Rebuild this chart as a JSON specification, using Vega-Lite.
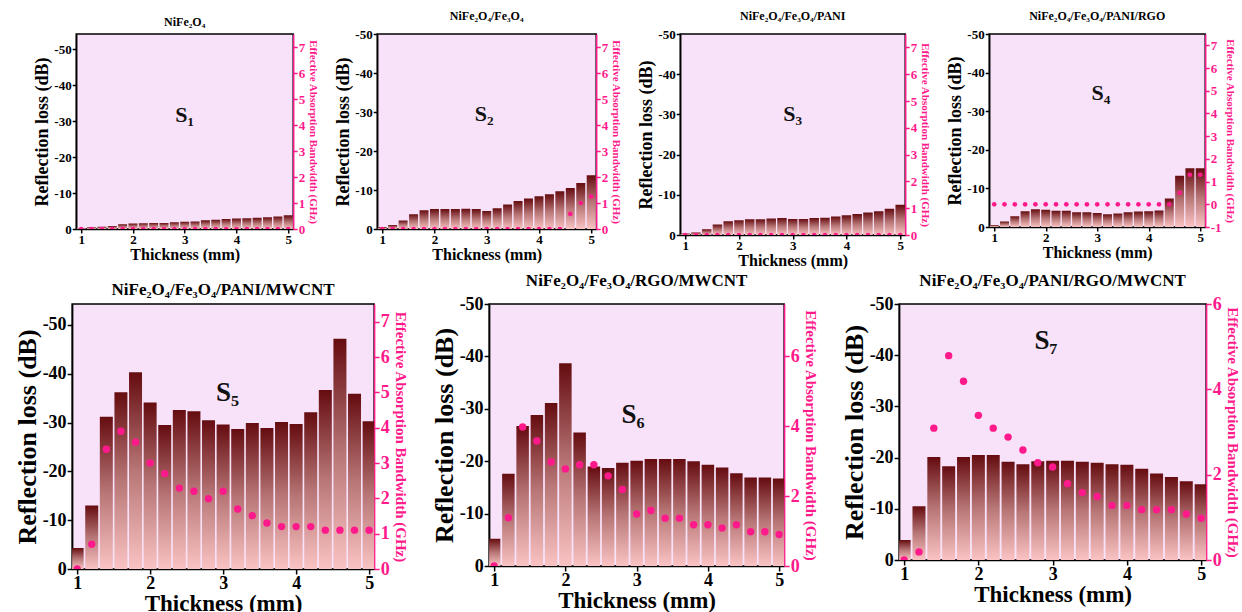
{
  "$schema": "https://vega.github.io/schema/vega-lite/v6.json",
  "padding": {"left": 13, "top": 9, "right": 0, "bottom": 0},
  "background": "white",
  "center": true,
  "spacing": 2,
  "config": {
    "font": "Liberation Serif",
    "view": {"fill": "#f8e2f9", "stroke": "#000000", "strokeWidth": 1.5},
    "axis": {"labelFont": "Liberation Serif", "titleFont": "Liberation Serif", "labelFontWeight": "bold", "titleFontWeight": "bold", "grid": false, "domainColor": "#000", "tickColor": "#000", "labelColor": "#000", "titleColor": "#000", "domainWidth": 1.5, "tickWidth": 1.5, "labelOverlap": false, "labelFlush": false, "tickCount": 20, "format": "d"},
    "title": {"font": "Liberation Serif", "fontWeight": "bold", "color": "#000"}
  },
  "datasets": {
    "d": [
      {"s":"S1","t":1.0,"rl":-0.3,"eab":0},{"s":"S1","t":1.2,"rl":-0.5,"eab":0},{"s":"S1","t":1.4,"rl":-0.6,"eab":0},{"s":"S1","t":1.6,"rl":-0.8,"eab":0},{"s":"S1","t":1.8,"rl":-1.3,"eab":0},{"s":"S1","t":2.0,"rl":-1.5,"eab":0},{"s":"S1","t":2.2,"rl":-1.6,"eab":0},{"s":"S1","t":2.4,"rl":-1.7,"eab":0},{"s":"S1","t":2.6,"rl":-1.7,"eab":0},{"s":"S1","t":2.8,"rl":-1.9,"eab":0},{"s":"S1","t":3.0,"rl":-2.0,"eab":0},{"s":"S1","t":3.2,"rl":-2.1,"eab":0},{"s":"S1","t":3.4,"rl":-2.4,"eab":0},{"s":"S1","t":3.6,"rl":-2.6,"eab":0},{"s":"S1","t":3.8,"rl":-2.8,"eab":0},{"s":"S1","t":4.0,"rl":-2.9,"eab":0},{"s":"S1","t":4.2,"rl":-3.0,"eab":0},{"s":"S1","t":4.4,"rl":-3.1,"eab":0},{"s":"S1","t":4.6,"rl":-3.3,"eab":0},{"s":"S1","t":4.8,"rl":-3.5,"eab":0},{"s":"S1","t":5.0,"rl":-3.8,"eab":0},
      {"s":"S2","t":1.0,"rl":-0.5,"eab":0},{"s":"S2","t":1.2,"rl":-1.0,"eab":0},{"s":"S2","t":1.4,"rl":-2.2,"eab":0},{"s":"S2","t":1.6,"rl":-3.8,"eab":0},{"s":"S2","t":1.8,"rl":-4.8,"eab":0},{"s":"S2","t":2.0,"rl":-5.1,"eab":0},{"s":"S2","t":2.2,"rl":-5.1,"eab":0},{"s":"S2","t":2.4,"rl":-5.1,"eab":0},{"s":"S2","t":2.6,"rl":-5.2,"eab":0},{"s":"S2","t":2.8,"rl":-5.1,"eab":0},{"s":"S2","t":3.0,"rl":-4.6,"eab":0},{"s":"S2","t":3.2,"rl":-5.3,"eab":0},{"s":"S2","t":3.4,"rl":-6.3,"eab":0},{"s":"S2","t":3.6,"rl":-7.2,"eab":0},{"s":"S2","t":3.8,"rl":-7.8,"eab":0},{"s":"S2","t":4.0,"rl":-8.4,"eab":0},{"s":"S2","t":4.2,"rl":-8.9,"eab":0},{"s":"S2","t":4.4,"rl":-9.7,"eab":0},{"s":"S2","t":4.6,"rl":-10.5,"eab":0.58},{"s":"S2","t":4.8,"rl":-11.8,"eab":1.0},{"s":"S2","t":5.0,"rl":-13.8,"eab":1.25},
      {"s":"S3","t":1.0,"rl":-0.4,"eab":0},{"s":"S3","t":1.2,"rl":-0.6,"eab":0},{"s":"S3","t":1.4,"rl":-1.4,"eab":0},{"s":"S3","t":1.6,"rl":-2.6,"eab":0},{"s":"S3","t":1.8,"rl":-3.4,"eab":0},{"s":"S3","t":2.0,"rl":-3.7,"eab":0},{"s":"S3","t":2.2,"rl":-3.9,"eab":0},{"s":"S3","t":2.4,"rl":-3.9,"eab":0},{"s":"S3","t":2.6,"rl":-4.1,"eab":0},{"s":"S3","t":2.8,"rl":-4.2,"eab":0},{"s":"S3","t":3.0,"rl":-4.0,"eab":0},{"s":"S3","t":3.2,"rl":-4.0,"eab":0},{"s":"S3","t":3.4,"rl":-4.2,"eab":0},{"s":"S3","t":3.6,"rl":-4.3,"eab":0},{"s":"S3","t":3.8,"rl":-4.6,"eab":0},{"s":"S3","t":4.0,"rl":-4.9,"eab":0},{"s":"S3","t":4.2,"rl":-5.2,"eab":0},{"s":"S3","t":4.4,"rl":-5.6,"eab":0},{"s":"S3","t":4.6,"rl":-5.9,"eab":0},{"s":"S3","t":4.8,"rl":-6.5,"eab":0},{"s":"S3","t":5.0,"rl":-7.5,"eab":0},
      {"s":"S4","t":1.0,"rl":-0.5,"eab":0},{"s":"S4","t":1.2,"rl":-1.4,"eab":0},{"s":"S4","t":1.4,"rl":-2.8,"eab":0},{"s":"S4","t":1.6,"rl":-4.1,"eab":0},{"s":"S4","t":1.8,"rl":-4.6,"eab":0},{"s":"S4","t":2.0,"rl":-4.5,"eab":0},{"s":"S4","t":2.2,"rl":-4.2,"eab":0},{"s":"S4","t":2.4,"rl":-4.2,"eab":0},{"s":"S4","t":2.6,"rl":-3.8,"eab":0},{"s":"S4","t":2.8,"rl":-3.8,"eab":0},{"s":"S4","t":3.0,"rl":-3.6,"eab":0},{"s":"S4","t":3.2,"rl":-3.3,"eab":0},{"s":"S4","t":3.4,"rl":-3.5,"eab":0},{"s":"S4","t":3.6,"rl":-3.8,"eab":0},{"s":"S4","t":3.8,"rl":-4.0,"eab":0},{"s":"S4","t":4.0,"rl":-4.1,"eab":0},{"s":"S4","t":4.2,"rl":-4.3,"eab":0},{"s":"S4","t":4.4,"rl":-7.4,"eab":0},{"s":"S4","t":4.6,"rl":-13.3,"eab":0.5},{"s":"S4","t":4.8,"rl":-15.2,"eab":1.3},{"s":"S4","t":5.0,"rl":-15.2,"eab":1.3},
      {"s":"S5","t":1.0,"rl":-4.3,"eab":0},{"s":"S5","t":1.2,"rl":-13.0,"eab":0.7},{"s":"S5","t":1.4,"rl":-31.2,"eab":3.39},{"s":"S5","t":1.6,"rl":-36.2,"eab":3.9},{"s":"S5","t":1.8,"rl":-40.3,"eab":3.59},{"s":"S5","t":2.0,"rl":-34.1,"eab":3.0},{"s":"S5","t":2.2,"rl":-29.5,"eab":2.7},{"s":"S5","t":2.4,"rl":-32.6,"eab":2.29},{"s":"S5","t":2.6,"rl":-32.3,"eab":2.2},{"s":"S5","t":2.8,"rl":-30.5,"eab":1.99},{"s":"S5","t":3.0,"rl":-29.6,"eab":2.2},{"s":"S5","t":3.2,"rl":-28.7,"eab":1.7},{"s":"S5","t":3.4,"rl":-29.9,"eab":1.51},{"s":"S5","t":3.6,"rl":-28.9,"eab":1.3},{"s":"S5","t":3.8,"rl":-30.1,"eab":1.2},{"s":"S5","t":4.0,"rl":-29.7,"eab":1.2},{"s":"S5","t":4.2,"rl":-32.1,"eab":1.2},{"s":"S5","t":4.4,"rl":-36.7,"eab":1.1},{"s":"S5","t":4.6,"rl":-47.2,"eab":1.1},{"s":"S5","t":4.8,"rl":-35.9,"eab":1.1},{"s":"S5","t":5.0,"rl":-30.3,"eab":1.1},
      {"s":"S6","t":1.0,"rl":-5.2,"eab":0},{"s":"S6","t":1.2,"rl":-17.6,"eab":1.38},{"s":"S6","t":1.4,"rl":-26.7,"eab":3.98},{"s":"S6","t":1.6,"rl":-28.8,"eab":3.58},{"s":"S6","t":1.8,"rl":-31.1,"eab":2.98},{"s":"S6","t":2.0,"rl":-38.7,"eab":2.78},{"s":"S6","t":2.2,"rl":-25.5,"eab":2.9},{"s":"S6","t":2.4,"rl":-19.0,"eab":2.9},{"s":"S6","t":2.6,"rl":-18.7,"eab":2.58},{"s":"S6","t":2.8,"rl":-19.7,"eab":2.19},{"s":"S6","t":3.0,"rl":-20.1,"eab":1.49},{"s":"S6","t":3.2,"rl":-20.4,"eab":1.59},{"s":"S6","t":3.4,"rl":-20.4,"eab":1.37},{"s":"S6","t":3.6,"rl":-20.4,"eab":1.37},{"s":"S6","t":3.8,"rl":-20.0,"eab":1.18},{"s":"S6","t":4.0,"rl":-19.3,"eab":1.18},{"s":"S6","t":4.2,"rl":-18.8,"eab":1.09},{"s":"S6","t":4.4,"rl":-17.7,"eab":1.18},{"s":"S6","t":4.6,"rl":-16.9,"eab":0.98},{"s":"S6","t":4.8,"rl":-16.9,"eab":0.98},{"s":"S6","t":5.0,"rl":-16.7,"eab":0.9},
      {"s":"S7","t":1.0,"rl":-3.9,"eab":0},{"s":"S7","t":1.2,"rl":-10.5,"eab":0.19},{"s":"S7","t":1.4,"rl":-20.1,"eab":3.09},{"s":"S7","t":1.6,"rl":-18.3,"eab":4.79},{"s":"S7","t":1.8,"rl":-20.1,"eab":4.19},{"s":"S7","t":2.0,"rl":-20.5,"eab":3.39},{"s":"S7","t":2.2,"rl":-20.5,"eab":3.09},{"s":"S7","t":2.4,"rl":-19.2,"eab":2.88},{"s":"S7","t":2.6,"rl":-18.7,"eab":2.58},{"s":"S7","t":2.8,"rl":-19.3,"eab":2.28},{"s":"S7","t":3.0,"rl":-19.4,"eab":2.18},{"s":"S7","t":3.2,"rl":-19.4,"eab":1.79},{"s":"S7","t":3.4,"rl":-19.2,"eab":1.58},{"s":"S7","t":3.6,"rl":-19.0,"eab":1.49},{"s":"S7","t":3.8,"rl":-18.7,"eab":1.28},{"s":"S7","t":4.0,"rl":-18.6,"eab":1.28},{"s":"S7","t":4.2,"rl":-17.8,"eab":1.18},{"s":"S7","t":4.4,"rl":-16.9,"eab":1.18},{"s":"S7","t":4.6,"rl":-16.2,"eab":1.18},{"s":"S7","t":4.8,"rl":-15.4,"eab":1.08},{"s":"S7","t":5.0,"rl":-14.8,"eab":0.98}
    ],
    "lab": [
      {"s":"S1","label":"S₁","x":3.0,"y":-31.6},
      {"s":"S2","label":"S₂","x":2.95,"y":-29.6},
      {"s":"S3","label":"S₃","x":3.0,"y":-30},
      {"s":"S4","label":"S₄","x":3.07,"y":-34.6},
      {"s":"S5","label":"S₅","x":3.06,"y":-36},
      {"s":"S6","label":"S₆","x":2.95,"y":-28.9},
      {"s":"S7","label":"S₇","x":2.91,"y":-42.8}
    ]
  },
  "resolve": {"scale": {"x": "independent", "y": "independent"}},
  "vconcat": [
    {
      "bounds": "flush",
      "spacing": 84,
      "resolve": {"scale": {"x": "independent", "y": "independent"}},
      "hconcat": [
        {
          "width": 217, "height": 195,
          "title": {"text": "NiFe₂O₄", "fontSize": 12, "offset": 5},
          "resolve": {"scale": {"y": "independent"}},
          "layer": [
            {
              "layer": [
                {"data": {"name": "d"}, "transform": [{"filter": "datum.s == 'S1'"}],
                 "mark": {"type": "bar", "width": 9, "clip": true, "color": {"gradient": "linear", "x1": 0, "y1": 0, "x2": 0, "y2": 1, "stops": [{"offset": 0, "color": "#650c10"}, {"offset": 0.5, "color": "#b87676"}, {"offset": 1, "color": "#fac3c3"}]}},
                 "encoding": {
                   "x": {"field": "t", "type": "quantitative", "scale": {"domain": [1, 5], "nice": false, "zero": false}, "axis": {"values": [1, 2, 3, 4, 5], "format": "d", "title": "Thickness (mm)", "labelFontSize": 13, "titleFontSize": 16, "titlePadding": 0, "labelPadding": 0, "tickSize": 4}},
                   "y": {"field": "rl", "type": "quantitative", "scale": {"domain": [0, -54.2], "nice": false}, "axis": {"values": [0, -10, -20, -30, -40, -50], "labelExpr": "datum.value == 0 ? '0' : '-' + abs(datum.value)", "title": "Reflection loss (dB)", "labelFontSize": 13, "titleFontSize": 18, "titlePadding": 2, "labelPadding": 1, "tickSize": 4}}
                 }},
                {"mark": {"type": "rule", "strokeDash": [5, 4], "color": "#333", "strokeWidth": 1.2}, "encoding": {"y": {"datum": -10}}},
                {"data": {"name": "lab"}, "transform": [{"filter": "datum.s == 'S1'"}], "mark": {"type": "text", "fontSize": 22, "fontWeight": "bold", "font": "Liberation Serif", "color": "#111"},
                 "encoding": {"x": {"field": "x", "type": "quantitative"}, "y": {"field": "y", "type": "quantitative"}, "text": {"field": "label"}}}
              ]
            },
            {"data": {"name": "d"}, "transform": [{"filter": "datum.s == 'S1'"}],
             "mark": {"type": "point", "filled": true, "size": 22, "color": "#ff1a8c", "opacity": 1, "clip": true},
             "encoding": {
               "x": {"field": "t", "type": "quantitative"},
               "y": {"field": "eab", "type": "quantitative", "scale": {"domain": [0, 7.5], "nice": false}, "axis": {"orient": "right", "values": [0, 1, 2, 3, 4, 5, 6, 7], "format": "d", "title": "Effective Absorption Bandwidth (GHz)", "labelFontSize": 13, "titleFontSize": 11, "titlePadding": 3, "labelPadding": 1, "tickSize": 4, "labelColor": "#ff1a8c", "titleColor": "#ff1a8c", "domainColor": "#ff1a8c", "tickColor": "#ff1a8c"}}
             }}
          ]
        },
        {
          "width": 219, "height": 195,
          "title": {"text": "NiFe₂O₄/Fe₃O₄", "fontSize": 12, "offset": 5},
          "resolve": {"scale": {"y": "independent"}},
          "layer": [
            {
              "layer": [
                {"data": {"name": "d"}, "transform": [{"filter": "datum.s == 'S2'"}],
                 "mark": {"type": "bar", "width": 9, "clip": true, "color": {"gradient": "linear", "x1": 0, "y1": 0, "x2": 0, "y2": 1, "stops": [{"offset": 0, "color": "#650c10"}, {"offset": 0.5, "color": "#b87676"}, {"offset": 1, "color": "#fac3c3"}]}},
                 "encoding": {
                   "x": {"field": "t", "type": "quantitative", "scale": {"domain": [1, 5], "nice": false, "zero": false}, "axis": {"values": [1, 2, 3, 4, 5], "format": "d", "title": "Thickness (mm)", "labelFontSize": 13, "titleFontSize": 16, "titlePadding": 0, "labelPadding": 0, "tickSize": 4}},
                   "y": {"field": "rl", "type": "quantitative", "scale": {"domain": [0, -50], "nice": false}, "axis": {"values": [0, -10, -20, -30, -40, -50], "labelExpr": "datum.value == 0 ? '0' : '-' + abs(datum.value)", "title": "Reflection loss (dB)", "labelFontSize": 13, "titleFontSize": 18, "titlePadding": 2, "labelPadding": 1, "tickSize": 4}}
                 }},
                {"mark": {"type": "rule", "strokeDash": [5, 4], "color": "#333", "strokeWidth": 1.2}, "encoding": {"y": {"datum": -10}}},
                {"data": {"name": "lab"}, "transform": [{"filter": "datum.s == 'S2'"}], "mark": {"type": "text", "fontSize": 22, "fontWeight": "bold", "font": "Liberation Serif", "color": "#111"},
                 "encoding": {"x": {"field": "x", "type": "quantitative"}, "y": {"field": "y", "type": "quantitative"}, "text": {"field": "label"}}}
              ]
            },
            {"data": {"name": "d"}, "transform": [{"filter": "datum.s == 'S2'"}],
             "mark": {"type": "point", "filled": true, "size": 22, "color": "#ff1a8c", "opacity": 1, "clip": true},
             "encoding": {
               "x": {"field": "t", "type": "quantitative"},
               "y": {"field": "eab", "type": "quantitative", "scale": {"domain": [0, 7.5], "nice": false}, "axis": {"orient": "right", "values": [0, 1, 2, 3, 4, 5, 6, 7], "format": "d", "title": "Effective Absorption Bandwidth (GHz)", "labelFontSize": 13, "titleFontSize": 11, "titlePadding": 3, "labelPadding": 1, "tickSize": 4, "labelColor": "#ff1a8c", "titleColor": "#ff1a8c", "domainColor": "#ff1a8c", "tickColor": "#ff1a8c"}}
             }}
          ]
        },
        {
          "width": 225, "height": 201,
          "title": {"text": "NiFe₂O₄/Fe₃O₄/PANI", "fontSize": 12, "offset": 5},
          "resolve": {"scale": {"y": "independent"}},
          "layer": [
            {
              "layer": [
                {"data": {"name": "d"}, "transform": [{"filter": "datum.s == 'S3'"}],
                 "mark": {"type": "bar", "width": 9.5, "clip": true, "color": {"gradient": "linear", "x1": 0, "y1": 0, "x2": 0, "y2": 1, "stops": [{"offset": 0, "color": "#650c10"}, {"offset": 0.5, "color": "#b87676"}, {"offset": 1, "color": "#fac3c3"}]}},
                 "encoding": {
                   "x": {"field": "t", "type": "quantitative", "scale": {"domain": [1, 5], "nice": false, "zero": false}, "axis": {"values": [1, 2, 3, 4, 5], "format": "d", "title": "Thickness (mm)", "labelFontSize": 13, "titleFontSize": 16, "titlePadding": 0, "labelPadding": 0, "tickSize": 4}},
                   "y": {"field": "rl", "type": "quantitative", "scale": {"domain": [0, -50], "nice": false}, "axis": {"values": [0, -10, -20, -30, -40, -50], "labelExpr": "datum.value == 0 ? '0' : '-' + abs(datum.value)", "title": "Reflection loss (dB)", "labelFontSize": 13, "titleFontSize": 18, "titlePadding": 2, "labelPadding": 1, "tickSize": 4}}
                 }},
                {"mark": {"type": "rule", "strokeDash": [5, 4], "color": "#333", "strokeWidth": 1.2}, "encoding": {"y": {"datum": -10}}},
                {"data": {"name": "lab"}, "transform": [{"filter": "datum.s == 'S3'"}], "mark": {"type": "text", "fontSize": 22, "fontWeight": "bold", "font": "Liberation Serif", "color": "#111"},
                 "encoding": {"x": {"field": "x", "type": "quantitative"}, "y": {"field": "y", "type": "quantitative"}, "text": {"field": "label"}}}
              ]
            },
            {"data": {"name": "d"}, "transform": [{"filter": "datum.s == 'S3'"}],
             "mark": {"type": "point", "filled": true, "size": 22, "color": "#ff1a8c", "opacity": 1, "clip": true},
             "encoding": {
               "x": {"field": "t", "type": "quantitative"},
               "y": {"field": "eab", "type": "quantitative", "scale": {"domain": [0, 7.5], "nice": false}, "axis": {"orient": "right", "values": [0, 1, 2, 3, 4, 5, 6, 7], "format": "d", "title": "Effective Absorption Bandwidth (GHz)", "labelFontSize": 13, "titleFontSize": 11, "titlePadding": 3, "labelPadding": 1, "tickSize": 4, "labelColor": "#ff1a8c", "titleColor": "#ff1a8c", "domainColor": "#ff1a8c", "tickColor": "#ff1a8c"}}
             }}
          ]
        },
        {
          "width": 216, "height": 193,
          "title": {"text": "NiFe₂O₄/Fe₃O₄/PANI/RGO", "fontSize": 12, "offset": 5},
          "resolve": {"scale": {"y": "independent"}},
          "layer": [
            {
              "layer": [
                {"data": {"name": "d"}, "transform": [{"filter": "datum.s == 'S4'"}],
                 "mark": {"type": "bar", "width": 9, "clip": true, "color": {"gradient": "linear", "x1": 0, "y1": 0, "x2": 0, "y2": 1, "stops": [{"offset": 0, "color": "#650c10"}, {"offset": 0.5, "color": "#b87676"}, {"offset": 1, "color": "#fac3c3"}]}},
                 "encoding": {
                   "x": {"field": "t", "type": "quantitative", "scale": {"domain": [1, 5], "nice": false, "zero": false}, "axis": {"values": [1, 2, 3, 4, 5], "format": "d", "title": "Thickness (mm)", "labelFontSize": 13, "titleFontSize": 16, "titlePadding": 0, "labelPadding": 0, "tickSize": 4}},
                   "y": {"field": "rl", "type": "quantitative", "scale": {"domain": [0, -50], "nice": false}, "axis": {"values": [0, -10, -20, -30, -40, -50], "labelExpr": "datum.value == 0 ? '0' : '-' + abs(datum.value)", "title": "Reflection loss (dB)", "labelFontSize": 13, "titleFontSize": 18, "titlePadding": 2, "labelPadding": 1, "tickSize": 4}}
                 }},
                {"mark": {"type": "rule", "strokeDash": [5, 4], "color": "#333", "strokeWidth": 1.2}, "encoding": {"y": {"datum": -10}}},
                {"data": {"name": "lab"}, "transform": [{"filter": "datum.s == 'S4'"}], "mark": {"type": "text", "fontSize": 22, "fontWeight": "bold", "font": "Liberation Serif", "color": "#111"},
                 "encoding": {"x": {"field": "x", "type": "quantitative"}, "y": {"field": "y", "type": "quantitative"}, "text": {"field": "label"}}}
              ]
            },
            {"data": {"name": "d"}, "transform": [{"filter": "datum.s == 'S4'"}],
             "mark": {"type": "point", "filled": true, "size": 22, "color": "#ff1a8c", "opacity": 1, "clip": true},
             "encoding": {
               "x": {"field": "t", "type": "quantitative"},
               "y": {"field": "eab", "type": "quantitative", "scale": {"domain": [-1, 7.5], "nice": false, "zero": false}, "axis": {"orient": "right", "values": [-1, 0, 1, 2, 3, 4, 5, 6, 7], "labelExpr": "datum.value < 0 ? '-' + abs(datum.value) : '' + datum.value", "title": "Effective Absorption Bandwidth (GHz)", "labelFontSize": 13, "titleFontSize": 11, "titlePadding": 3, "labelPadding": 1, "tickSize": 4, "labelColor": "#ff1a8c", "titleColor": "#ff1a8c", "domainColor": "#ff1a8c", "tickColor": "#ff1a8c"}}
             }}
          ]
        }
      ]
    },
    {
      "bounds": "flush",
      "spacing": 115,
      "resolve": {"scale": {"x": "independent", "y": "independent"}},
      "hconcat": [
        {
          "width": 302, "height": 265,
          "title": {"text": "NiFe₂O₄/Fe₃O₄/PANI/MWCNT", "fontSize": 17, "offset": 5},
          "resolve": {"scale": {"y": "independent"}},
          "layer": [
            {
              "layer": [
                {"data": {"name": "d"}, "transform": [{"filter": "datum.s == 'S5'"}],
                 "mark": {"type": "bar", "width": 13, "clip": true, "color": {"gradient": "linear", "x1": 0, "y1": 0, "x2": 0, "y2": 1, "stops": [{"offset": 0, "color": "#650c10"}, {"offset": 0.5, "color": "#b87676"}, {"offset": 1, "color": "#fac3c3"}]}},
                 "encoding": {
                   "x": {"field": "t", "type": "quantitative", "scale": {"domain": [1, 5], "nice": false, "zero": false}, "axis": {"values": [1, 2, 3, 4, 5], "format": "d", "title": "Thickness (mm)", "labelFontSize": 18, "titleFontSize": 23, "titlePadding": 0, "labelPadding": 0, "tickSize": 5}},
                   "y": {"field": "rl", "type": "quantitative", "scale": {"domain": [0, -54.3], "nice": false}, "axis": {"values": [0, -10, -20, -30, -40, -50], "labelExpr": "datum.value == 0 ? '0' : '-' + abs(datum.value)", "title": "Reflection loss (dB)", "labelFontSize": 18, "titleFontSize": 26, "titlePadding": 2, "labelPadding": 1, "tickSize": 5}}
                 }},
                {"mark": {"type": "rule", "strokeDash": [9, 7], "color": "#222", "strokeWidth": 1.6}, "encoding": {"y": {"datum": -10}}},
                {"data": {"name": "lab"}, "transform": [{"filter": "datum.s == 'S5'"}], "mark": {"type": "text", "fontSize": 27, "fontWeight": "bold", "font": "Liberation Serif", "color": "#111"},
                 "encoding": {"x": {"field": "x", "type": "quantitative"}, "y": {"field": "y", "type": "quantitative"}, "text": {"field": "label"}}}
              ]
            },
            {"data": {"name": "d"}, "transform": [{"filter": "datum.s == 'S5'"}],
             "mark": {"type": "point", "filled": true, "size": 55, "color": "#ff1a8c", "opacity": 1, "clip": true},
             "encoding": {
               "x": {"field": "t", "type": "quantitative"},
               "y": {"field": "eab", "type": "quantitative", "scale": {"domain": [0, 7.5], "nice": false}, "axis": {"orient": "right", "values": [0, 1, 2, 3, 4, 5, 6, 7], "format": "d", "title": "Effective Absorption Bandwidth (GHz)", "labelFontSize": 18, "titleFontSize": 15, "titlePadding": 3, "labelPadding": 1, "tickSize": 5, "labelColor": "#ff1a8c", "titleColor": "#ff1a8c", "domainColor": "#ff1a8c", "tickColor": "#ff1a8c"}}
             }}
          ]
        },
        {
          "width": 295, "height": 262,
          "title": {"text": "NiFe₂O₄/Fe₃O₄/RGO/MWCNT", "fontSize": 17, "offset": 5},
          "resolve": {"scale": {"y": "independent"}},
          "layer": [
            {
              "layer": [
                {"data": {"name": "d"}, "transform": [{"filter": "datum.s == 'S6'"}],
                 "mark": {"type": "bar", "width": 12.5, "clip": true, "color": {"gradient": "linear", "x1": 0, "y1": 0, "x2": 0, "y2": 1, "stops": [{"offset": 0, "color": "#650c10"}, {"offset": 0.5, "color": "#b87676"}, {"offset": 1, "color": "#fac3c3"}]}},
                 "encoding": {
                   "x": {"field": "t", "type": "quantitative", "scale": {"domain": [1, 5], "nice": false, "zero": false}, "axis": {"values": [1, 2, 3, 4, 5], "format": "d", "title": "Thickness (mm)", "labelFontSize": 18, "titleFontSize": 23, "titlePadding": 0, "labelPadding": 0, "tickSize": 5}},
                   "y": {"field": "rl", "type": "quantitative", "scale": {"domain": [0, -50], "nice": false}, "axis": {"values": [0, -10, -20, -30, -40, -50], "labelExpr": "datum.value == 0 ? '0' : '-' + abs(datum.value)", "title": "Reflection loss (dB)", "labelFontSize": 18, "titleFontSize": 26, "titlePadding": 2, "labelPadding": 1, "tickSize": 5}}
                 }},
                {"mark": {"type": "rule", "strokeDash": [9, 7], "color": "#222", "strokeWidth": 1.6}, "encoding": {"y": {"datum": -10}}},
                {"data": {"name": "lab"}, "transform": [{"filter": "datum.s == 'S6'"}], "mark": {"type": "text", "fontSize": 27, "fontWeight": "bold", "font": "Liberation Serif", "color": "#111"},
                 "encoding": {"x": {"field": "x", "type": "quantitative"}, "y": {"field": "y", "type": "quantitative"}, "text": {"field": "label"}}}
              ]
            },
            {"data": {"name": "d"}, "transform": [{"filter": "datum.s == 'S6'"}],
             "mark": {"type": "point", "filled": true, "size": 55, "color": "#ff1a8c", "opacity": 1, "clip": true},
             "encoding": {
               "x": {"field": "t", "type": "quantitative"},
               "y": {"field": "eab", "type": "quantitative", "scale": {"domain": [0, 7.5], "nice": false}, "axis": {"orient": "right", "values": [0, 2, 4, 6], "format": "d", "title": "Effective Absorption Bandwidth (GHz)", "labelFontSize": 18, "titleFontSize": 15, "titlePadding": 3, "labelPadding": 1, "tickSize": 5, "labelColor": "#ff1a8c", "titleColor": "#ff1a8c", "domainColor": "#ff1a8c", "tickColor": "#ff1a8c"}}
             }}
          ]
        },
        {
          "width": 307, "height": 256,
          "title": {"text": "NiFe₂O₄/Fe₃O₄/PANI/RGO/MWCNT", "fontSize": 17, "offset": 5},
          "resolve": {"scale": {"y": "independent"}},
          "layer": [
            {
              "layer": [
                {"data": {"name": "d"}, "transform": [{"filter": "datum.s == 'S7'"}],
                 "mark": {"type": "bar", "width": 13, "clip": true, "color": {"gradient": "linear", "x1": 0, "y1": 0, "x2": 0, "y2": 1, "stops": [{"offset": 0, "color": "#650c10"}, {"offset": 0.5, "color": "#b87676"}, {"offset": 1, "color": "#fac3c3"}]}},
                 "encoding": {
                   "x": {"field": "t", "type": "quantitative", "scale": {"domain": [1, 5], "nice": false, "zero": false}, "axis": {"values": [1, 2, 3, 4, 5], "format": "d", "title": "Thickness (mm)", "labelFontSize": 18, "titleFontSize": 23, "titlePadding": 0, "labelPadding": 0, "tickSize": 5}},
                   "y": {"field": "rl", "type": "quantitative", "scale": {"domain": [0, -50], "nice": false}, "axis": {"values": [0, -10, -20, -30, -40, -50], "labelExpr": "datum.value == 0 ? '0' : '-' + abs(datum.value)", "title": "Reflection loss (dB)", "labelFontSize": 18, "titleFontSize": 26, "titlePadding": 2, "labelPadding": 1, "tickSize": 5}}
                 }},
                {"mark": {"type": "rule", "strokeDash": [9, 7], "color": "#222", "strokeWidth": 1.6}, "encoding": {"y": {"datum": -10}}},
                {"data": {"name": "lab"}, "transform": [{"filter": "datum.s == 'S7'"}], "mark": {"type": "text", "fontSize": 27, "fontWeight": "bold", "font": "Liberation Serif", "color": "#111"},
                 "encoding": {"x": {"field": "x", "type": "quantitative"}, "y": {"field": "y", "type": "quantitative"}, "text": {"field": "label"}}}
              ]
            },
            {"data": {"name": "d"}, "transform": [{"filter": "datum.s == 'S7'"}],
             "mark": {"type": "point", "filled": true, "size": 55, "color": "#ff1a8c", "opacity": 1, "clip": true},
             "encoding": {
               "x": {"field": "t", "type": "quantitative"},
               "y": {"field": "eab", "type": "quantitative", "scale": {"domain": [0, 6], "nice": false}, "axis": {"orient": "right", "values": [0, 2, 4, 6], "format": "d", "title": "Effective Absorption Bandwidth (GHz)", "labelFontSize": 18, "titleFontSize": 15, "titlePadding": 3, "labelPadding": 1, "tickSize": 5, "labelColor": "#ff1a8c", "titleColor": "#ff1a8c", "domainColor": "#ff1a8c", "tickColor": "#ff1a8c"}}
             }}
          ]
        }
      ]
    }
  ]
}
